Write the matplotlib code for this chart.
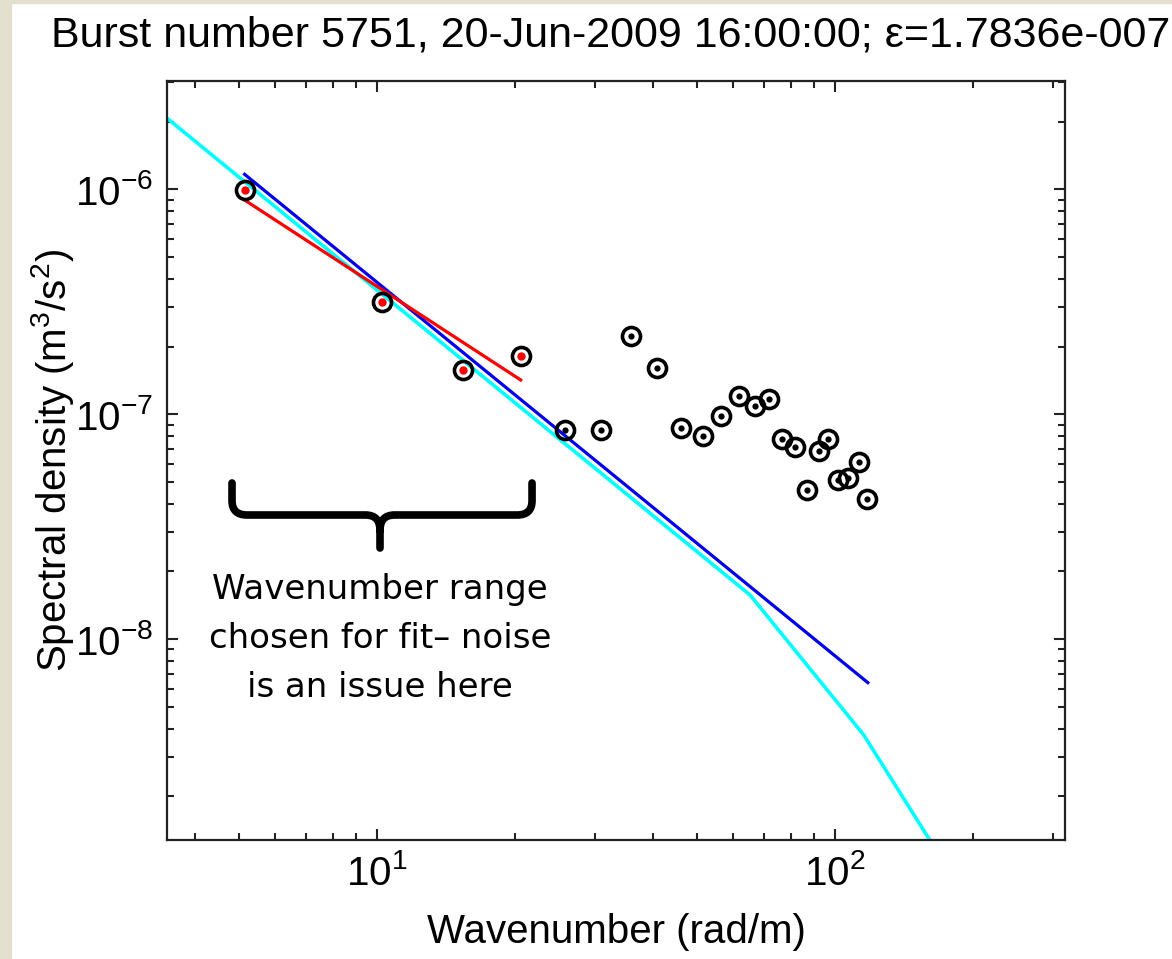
import matplotlib
matplotlib.use('Agg')
import matplotlib.pyplot as plt
from matplotlib.patches import Rectangle, PathPatch
from matplotlib.path import Path
from matplotlib.ticker import LogLocator, NullFormatter

plt.rcParams['font.family'] = ['Liberation Sans', 'DejaVu Sans']
plt.rcParams['mathtext.fontset'] = 'custom'
plt.rcParams['mathtext.rm'] = 'Liberation Sans'
plt.rcParams['mathtext.it'] = 'Liberation Sans'

# spectrum points used in the fit (red centres)
k_fit = [5.14, 10.28, 15.41, 20.6]
S_fit = [9.9e-7, 3.15e-7, 1.57e-7, 1.82e-7]

# remaining spectrum points
k_rest = [25.7, 30.8, 35.9, 40.8, 46.2, 51.5, 56.5, 61.7, 66.8, 71.8,
          76.8, 81.9, 86.9, 92.4, 96.8, 101.8, 107.0, 113.0, 117.5]
S_rest = [8.51e-8, 8.51e-8, 2.23e-7, 1.60e-7, 8.72e-8, 8.01e-8, 9.86e-8,
          1.21e-7, 1.09e-7, 1.166e-7, 7.74e-8, 7.13e-8, 4.61e-8, 6.86e-8,
          7.74e-8, 5.10e-8, 5.23e-8, 6.16e-8, 4.19e-8]

# fitted lines
k_red = [5.14, 20.6]
S_red = [8.96e-7, 1.42e-7]
k_blue = [5.14, 118.0]
S_blue = [1.166e-6, 6.41e-9]
k_cyan = [3.48, 65.3, 115.5, 161.5]
S_cyan = [2.07e-6, 1.57e-8, 3.76e-9, 1.27e-9]

title = 'Burst number 5751, 20-Jun-2009 16:00:00; \u03b5=1.7836e-007'
note = 'Wavenumber range\nchosen for fit\u2013 noise\nis an issue here'

fig = plt.figure(figsize=(11.72, 9.59), dpi=100)
fig.patches.append(Rectangle((0, 0), 11 / 1172, 1, transform=fig.transFigure,
                             color='#e3e1cd', zorder=0))
fig.patches.append(Rectangle((0, 1 - 3 / 959), 1, 3 / 959, transform=fig.transFigure,
                             color='#e3e1cd', zorder=0))

ax = fig.add_axes([167 / 1172, 1 - 840 / 959, 898 / 1172, 759 / 959])
ax.set_xscale('log')
ax.set_yscale('log')

ax.plot(k_cyan, S_cyan, color='#00ffff', lw=2.6, zorder=2)
ax.plot(k_blue, S_blue, color='#0000ee', lw=2.3, zorder=3)
ax.plot(k_red, S_red, color='#ff0000', lw=2.3, zorder=4)

ax.plot(k_rest, S_rest, 'o', ms=13, mfc='none', mec='black', mew=2.6, zorder=5)
ax.plot(k_rest, S_rest, 'o', ms=4.5, mfc='black', mec='black', mew=0, zorder=5)
ax.plot(k_fit, S_fit, 'o', ms=13, mfc='none', mec='black', mew=2.6, zorder=5)
ax.plot(k_fit, S_fit, 'o', ms=6, mfc='red', mec='red', mew=0, zorder=6)

ax.set_xlim(3.48, 318)
ax.set_ylim(1.28e-9, 3.03e-6)

ax.xaxis.set_major_locator(LogLocator(base=10, numticks=10))
ax.xaxis.set_minor_locator(LogLocator(base=10, subs=range(2, 10), numticks=20))
ax.yaxis.set_major_locator(LogLocator(base=10, numticks=10))
ax.yaxis.set_minor_locator(LogLocator(base=10, subs=range(2, 10), numticks=20))
ax.xaxis.set_minor_formatter(NullFormatter())
ax.yaxis.set_minor_formatter(NullFormatter())

ax.tick_params(which='both', direction='in', top=True, right=True,
               color='#222222', width=1.5)
ax.tick_params(which='major', length=8, labelsize=29, pad=10)
ax.tick_params(which='minor', length=5)
for sp in ax.spines.values():
    sp.set_linewidth(1.6)
    sp.set_color('#222222')

ax.set_xlabel('Wavenumber (rad/m)', fontsize=29, va='center')
ax.xaxis.set_label_coords(0.5, -0.121)
ax.set_ylabel('Spectral density (m$^3$/s$^2$)', fontsize=29, va='center')
ax.yaxis.set_label_coords(-0.128, 0.5)

fig.text(611 / 1172, 1 - 36 / 959, title, fontsize=31, ha='center', va='center')

# curly-ish brace under the fit range, in axes fraction
M, L, C = Path.MOVETO, Path.LINETO, Path.CURVE3
brace_xy = [(0.0724, 0.4704), (0.0724, 0.447), (0.0724, 0.4282), (0.089, 0.4282),
            (0.221, 0.4282), (0.2372, 0.4282), (0.2372, 0.408), (0.2372, 0.3847),
            (0.2372, 0.408), (0.2372, 0.4282), (0.2534, 0.4282),
            (0.390, 0.4282), (0.4065, 0.4282), (0.4065, 0.447), (0.4065, 0.4704)]
brace_codes = [M, L, C, C, L, C, C, L, M, C, C, L, C, C, L]
ax.add_patch(PathPatch(Path(brace_xy, brace_codes), transform=ax.transAxes,
                       fill=False, lw=5.5, edgecolor='black',
                       capstyle='round', joinstyle='round', zorder=7))

ax.text(0.2372, 0.265, note, transform=ax.transAxes, fontsize=24.5,
        family='DejaVu Sans', ha='center', va='center', linespacing=1.62)

fig.savefig('out.png', dpi=100)
